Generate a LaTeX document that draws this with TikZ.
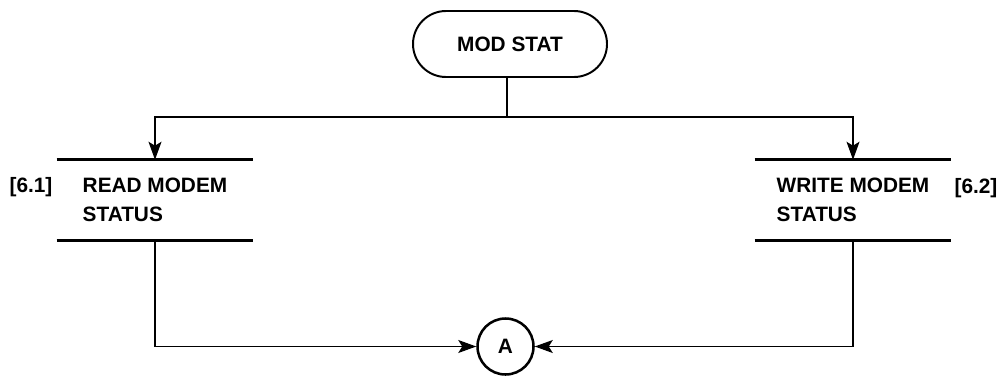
\documentclass[tikz,border=0pt]{standalone}
\usepackage{fontspec}
\setmainfont{Liberation Sans}
\usetikzlibrary{shapes.misc,arrows.meta}
\begin{document}
\begin{tikzpicture}[x=0.025cm,y=-0.025cm,
  txt/.style={font=\fontsize{14.8}{20.5}\selectfont\bfseries},
  term/.style={rounded rectangle,draw,line width=1.4pt,minimum width=194*0.025cm,minimum height=66*0.025cm,txt,inner sep=0pt},
  proc/.style={rectangle,minimum width=196*0.025cm,minimum height=80*0.025cm,txt,align=left,inner sep=0pt},
  bar/.style={line width=2.4pt},
  conn/.style={line width=0.8pt},
  arr/.style={conn,-{Stealth[length=18*0.025cm,width=13*0.025cm,inset=4*0.025cm]}},
  conncircle/.style={circle,draw,line width=1.8pt,minimum width=55*0.025cm,minimum height=56*0.025cm,inner sep=0pt,txt},
  ref/.style={txt}]
\useasboundingbox (0,0) rectangle (1003,375);
\node[term] (ms) at (510,44) {MOD STAT};
\node[proc] (r) at (155,200) {READ MODEM\\STATUS};
\node[proc] (w) at (853,200) {WRITE MODEM\\STATUS};
\node[ref] (r61) at (31,187) {[6.1]};
\node[ref] (r62) at (976,188) {[6.2]};
\node[conncircle] (a) at (505.5,346.5) {A};
\draw[bar] (r.north west) -- (r.north east);
\draw[bar] (r.south west) -- (r.south east);
\draw[bar] (w.north west) -- (w.north east);
\draw[bar] (w.south west) -- (w.south east);
\coordinate (j) at (507,117);
\draw[conn] (ms.south -| j) -- (j);
\draw[arr] (j) -| (r.north);
\draw[arr] (j) -| (w.north);
\draw[arr] (r.south) |- (a.west);
\draw[arr] (w.south) |- (a.east);
\end{tikzpicture}
\end{document}
